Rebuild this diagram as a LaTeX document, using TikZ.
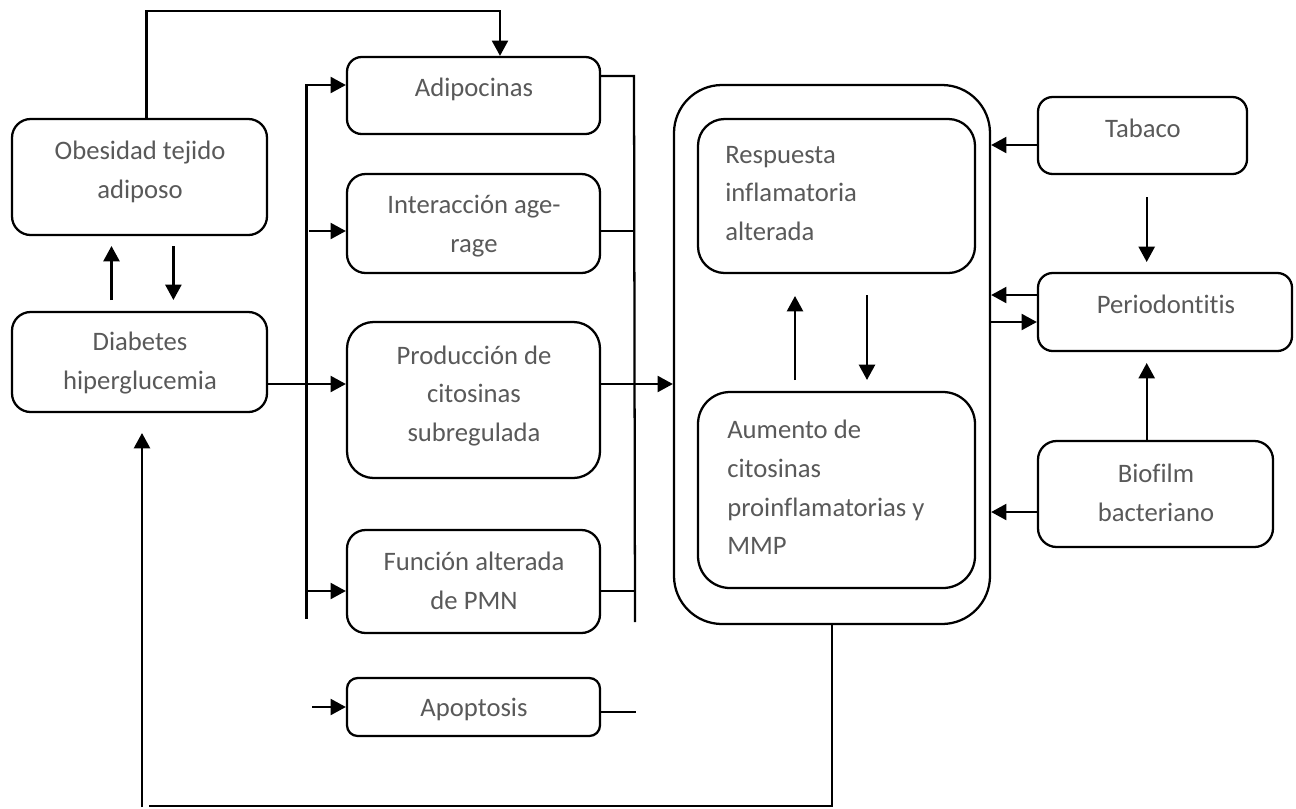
\documentclass[tikz,border=0pt]{standalone}
\usepackage{fontspec}
\setmainfont[Ligatures=NoCommon]{Carlito}
\usetikzlibrary{arrows.meta,fit,calc}
\definecolor{txtgray}{HTML}{595959}
\begin{document}
\begin{tikzpicture}[x=0.75pt,y=-0.75pt,
  box/.style={draw,line width=1.7pt,inner sep=0pt,rectangle},
  txt/.style={inner sep=0pt,text=txtgray,font=\fontsize{20}{29}\selectfont,align=center},
  ltxt/.style={inner sep=0pt,text=txtgray,font=\fontsize{20}{29}\selectfont,align=left,anchor=west},
  ln/.style={line width=1.7pt},
  arr/.style={line width=1.8pt,-{Triangle[length=11.5pt,width=12pt]}}]
\useasboundingbox (0,0) rectangle (1296,808);
% boxes
\node[box,rounded corners=14pt,fit={(12,119)(267,235)}] (obes) {};
\node[box,rounded corners=14pt,fit={(12,312)(267,412)}] (diab) {};
\node[box,rounded corners=11pt,fit={(347,57)(600,134)}] (adip) {};
\node[box,rounded corners=14pt,fit={(347,174)(600,273)}] (inter) {};
\node[box,rounded corners=20pt,fit={(347,322)(600,478)}] (prod) {};
\node[box,rounded corners=14pt,fit={(347,530)(600,633)}] (func) {};
\node[box,rounded corners=8pt,fit={(347,678)(600,736)}] (apop) {};
\node[box,rounded corners=36pt,fit={(674,85)(990,624)}] (outer) {};
\node[box,rounded corners=20pt,fit={(698,119)(975,273)}] (resp) {};
\node[box,rounded corners=24pt,fit={(698,392)(975,588)}] (aum) {};
\node[box,rounded corners=11pt,fit={(1038,97)(1247,174)}] (tab) {};
\node[box,rounded corners=11pt,fit={(1038,273)(1292,351)}] (perio) {};
\node[box,rounded corners=14pt,fit={(1038,441)(1273,547)}] (bio) {};
% texts
\node[txt] (tobes) at (140,172) {Obesidad tejido\\adiposo};
\node[txt] (tdiab) at (140,363) {Diabetes\\hiperglucemia};
\node[txt] (tadip) at (474,89) {Adipocinas};
\node[txt] (tinter) at (474,226) {Interacción age-\\rage};
\node[txt] (tprod) at (474,396) {Producción de\\citosinas\\subregulada};
\node[txt] (tfunc) at (474,581) {Función alterada\\de PMN};
\node[txt] (tapop) at (474,709) {Apoptosis};
\node[ltxt] (tresp) at (725,193.5) {Respuesta\\inflamatoria\\alterada};
\node[ltxt] (taum) at (727,487.5) {Aumento de\\citosinas\\proinflamatorias y\\MMP};
\node[txt] (ttab) at (1143,128) {Tabaco};
\node[txt] (tperio) at (1166,304) {Periodontitis};
\node[txt] (tbio) at (1156,493) {Biofilm\\bacteriano};
% coordinates
\coordinate (t1) at (146.5,11);
\coordinate (t2) at (500,11);
\coordinate (od1) at (111.5,300);
\coordinate (od2) at (111.5,246);
\coordinate (do1) at (173.4,246);
\coordinate (do2) at (173.4,300);
\coordinate (lbtop) at (306.4,85);
\coordinate (lbbot) at (306.4,619);
\coordinate (li2) at (309,231);
\coordinate (li4) at (306.4,591);
\coordinate (li5) at (312,707);
\coordinate (rbtop) at (634,76);
\coordinate (rbbot) at (635,622);
\coordinate (ri2) at (634,231);
\coordinate (ri4) at (635,591);
\coordinate (ri5) at (636,712);
\coordinate (h384) at (0,384);
\coordinate (ty) at (0,145);
\coordinate (py1) at (0,295);
\coordinate (py2) at (0,322);
\coordinate (by) at (0,512);
\coordinate (tp1) at (1146.7,197);
\coordinate (tp2) at (1146.7,262);
\coordinate (bp1) at (1146.7,440);
\coordinate (bp2) at (1146.7,363);
\coordinate (ra1) at (795,380);
\coordinate (ra2) at (795,296);
\coordinate (ar1) at (867,295);
\coordinate (ar2) at (867,380);
\coordinate (bot1) at (832,806);
\coordinate (bot2) at (148.6,806);
\coordinate (ua1) at (142,807);
\coordinate (ua2) at (142,433);
% connectors
\draw[arr] (t1 |- obes.north) -- (t1) -- (t2) -- (t2 |- adip.north);
\draw[arr] (od1) -- (od2);
\draw[arr] (do1) -- (do2);
\draw[arr] (lbbot) -- (lbtop) -- (lbtop -| adip.west);
\draw[arr] (li2) -- (li2 -| inter.west);
\draw[arr] (li4) -- (li4 -| func.west);
\draw[arr] (li5) -- (li5 -| apop.west);
\draw[arr] (diab.east |- h384) -- (prod.west |- h384);
\draw[arr] (prod.east |- h384) -- (outer.west |- h384);
\draw[ln] (adip.east |- rbtop) -- (rbtop) -- (rbbot);
\draw[ln] (inter.east |- ri2) -- (ri2);
\draw[ln] (func.east |- ri4) -- (ri4);
\draw[ln] (apop.east |- ri5) -- (ri5);
\draw[arr] (tab.west |- ty) -- (outer.east |- ty);
\draw[arr] (tp1) -- (tp2);
\draw[arr] (perio.west |- py1) -- (outer.east |- py1);
\draw[arr] (outer.east |- py2) -- (perio.west |- py2);
\draw[arr] (bp1) -- (bp2);
\draw[arr] (bio.west |- by) -- (outer.east |- by);
\draw[arr] (ra1) -- (ra2);
\draw[arr] (ar1) -- (ar2);
\draw[ln] (bot1 |- outer.south) -- (bot1) -- (bot2);
\draw[arr] (ua1) -- (ua2);
\end{tikzpicture}
\end{document}
